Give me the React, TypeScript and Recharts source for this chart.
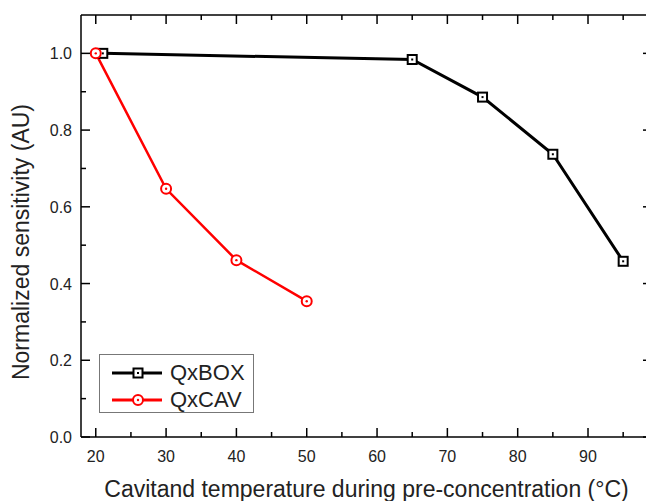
import { LineChart, Line, XAxis, YAxis, Legend } from 'recharts';

const boxTemps = [21, 65, 75, 85, 95];
const boxValues = [1.0, 0.984, 0.886, 0.737, 0.458];
const cavTemps = [20, 30, 40, 50];
const cavValues = [1.0, 0.647, 0.461, 0.354];
const xTicks = [20, 25, 30, 35, 40, 45, 50, 55, 60, 65, 70, 75, 80, 85, 90, 95];
const yTicks = [0, 0.1, 0.2, 0.3, 0.4, 0.5, 0.6, 0.7, 0.8, 0.9, 1.0];

const boxData = boxTemps.map((x, i) => ({ x, y: boxValues[i] }));
const cavData = cavTemps.map((x, i) => ({ x, y: cavValues[i] }));

const FONT = 'Arial, "Liberation Sans", sans-serif';
const X_DOMAIN: [number, number] = [17.9, 99.1];
const Y_DOMAIN: [number, number] = [0, 1.1];

const isMajorX = (v: number) => v % 10 === 0;
const isMajorY = (v: number) => Math.round(v * 10) % 2 === 0;

function BottomTick({ x, y, payload }: any) {
  const major = isMajorX(payload.value);
  return (
    <g>
      <line x1={x} x2={x} y1={y} y2={y - (major ? 9 : 5)} stroke="#000" strokeWidth={1.5} />
      {major && (
        <text x={x} y={y + 25} textAnchor="middle" fontSize={16} fontFamily={FONT} fill="#222">
          {payload.value}
        </text>
      )}
    </g>
  );
}

function TopTick({ x, y, payload }: any) {
  const major = isMajorX(payload.value);
  return <line x1={x} x2={x} y1={y} y2={y + (major ? 9 : 5)} stroke="#000" strokeWidth={1.5} />;
}

function LeftTick({ x, y, payload }: any) {
  const major = isMajorY(payload.value);
  return (
    <g>
      <line x1={x} x2={x + (major ? 9 : 5)} y1={y} y2={y} stroke="#000" strokeWidth={1.5} />
      {major && (
        <text x={x - 9} y={y + 6} textAnchor="end" fontSize={16} fontFamily={FONT} fill="#222">
          {payload.value.toFixed(1)}
        </text>
      )}
    </g>
  );
}

function RightTick({ x, y, payload }: any) {
  const major = isMajorY(payload.value);
  return <line x1={x} x2={x - (major ? 9 : 5)} y1={y} y2={y} stroke="#000" strokeWidth={1.5} />;
}

function SquareDot({ cx, cy }: any) {
  if (cx == null || cy == null) return null;
  return (
    <g>
      <rect x={cx - 4.5} y={cy - 4.5} width={9} height={9} fill="#fff" stroke="#000" strokeWidth={2} />
      <rect x={cx - 1} y={cy - 1} width={2} height={2} fill="#000" />
    </g>
  );
}

function CircleDot({ cx, cy }: any) {
  if (cx == null || cy == null) return null;
  return (
    <g>
      <circle cx={cx} cy={cy} r={5} fill="#fff" stroke="#ff0000" strokeWidth={2} />
      <circle cx={cx} cy={cy} r={1.2} fill="#ff0000" />
    </g>
  );
}

function XTitle({ viewBox }: any) {
  const cx = viewBox.x + viewBox.width / 2;
  return (
    <text x={cx} y={viewBox.y + 60} textAnchor="middle" fontSize={23} fontFamily={FONT} fill="#222">
      Cavitand temperature during pre-concentration (°C)
    </text>
  );
}

function YTitle({ viewBox }: any) {
  const cx = viewBox.x - 59;
  const cy = viewBox.y + viewBox.height / 2 + 16;
  return (
    <text
      x={cx}
      y={cy}
      transform={`rotate(-90 ${cx} ${cy})`}
      textAnchor="middle"
      dominantBaseline="central"
      fontSize={23}
      fontFamily={FONT}
      fill="#222"
    >
      Normalized sensitivity (AU)
    </text>
  );
}

const SERIES = [
  { name: 'QxBOX', color: '#000', Marker: SquareDot },
  { name: 'QxCAV', color: '#ff0000', Marker: CircleDot },
];

function LegendBox() {
  return (
    <div style={{ width: 155, height: 59, border: '1px solid #777', background: '#fff', boxSizing: 'border-box', paddingTop: 4 }}>
      {SERIES.map(({ name, color, Marker }) => (
        <div key={name} style={{ display: 'flex', alignItems: 'center', height: 27 }}>
          <svg width={66} height={20} style={{ marginLeft: 8 }}>
            <line x1={4} x2={54} y1={10} y2={10} stroke={color} strokeWidth={3} />
            <Marker cx={30} cy={10} />
          </svg>
          <span style={{ fontFamily: FONT, fontSize: 22, color: '#222', marginLeft: -4 }}>{name}</span>
        </div>
      ))}
    </div>
  );
}

export default function App() {
  return (
    <div style={{ position: 'absolute', left: 0, top: 0, width: 646, height: 501, overflow: 'hidden', background: '#fff' }}>
      <LineChart width={660} height={501} margin={{ top: 14, right: 7, bottom: 63, left: 80 }}>
        <XAxis
          xAxisId="b"
          dataKey="x"
          type="number"
          domain={X_DOMAIN}
          allowDataOverflow
          ticks={xTicks}
          interval={0}
          height={1}
          tickSize={0}
          tickMargin={0}
          tickLine={false}
          axisLine={{ stroke: '#000', strokeWidth: 1.5 }}
          tick={<BottomTick />}
          label={<XTitle />}
        />
        <XAxis
          xAxisId="t"
          orientation="top"
          dataKey="x"
          type="number"
          domain={X_DOMAIN}
          allowDataOverflow
          ticks={xTicks}
          interval={0}
          height={1}
          tickSize={0}
          tickMargin={0}
          tickLine={false}
          axisLine={{ stroke: '#000', strokeWidth: 1.5 }}
          tick={<TopTick />}
        />
        <YAxis
          yAxisId="l"
          type="number"
          domain={Y_DOMAIN}
          allowDataOverflow
          ticks={yTicks}
          interval={0}
          width={1}
          tickSize={0}
          tickMargin={0}
          tickLine={false}
          axisLine={{ stroke: '#000', strokeWidth: 1.5 }}
          tick={<LeftTick />}
          label={<YTitle />}
        />
        <YAxis
          yAxisId="r"
          orientation="right"
          type="number"
          domain={Y_DOMAIN}
          allowDataOverflow
          ticks={yTicks}
          interval={0}
          width={1}
          tickSize={0}
          tickMargin={0}
          tickLine={false}
          axisLine={{ stroke: '#000', strokeWidth: 1.5 }}
          tick={<RightTick />}
        />
        <Legend
          layout="vertical"
          align="center"
          verticalAlign="middle"
          wrapperStyle={{ left: 99, top: 354, width: 155, height: 59 }}
          content={<LegendBox />}
        />
        <Line
          xAxisId="b"
          yAxisId="l"
          data={boxData}
          dataKey="y"
          name="QxBOX"
          stroke="#000"
          strokeWidth={3}
          dot={<SquareDot />}
          activeDot={false}
          isAnimationActive={false}
        />
        <Line
          xAxisId="b"
          yAxisId="l"
          data={cavData}
          dataKey="y"
          name="QxCAV"
          stroke="#ff0000"
          strokeWidth={2.5}
          dot={<CircleDot />}
          activeDot={false}
          isAnimationActive={false}
        />
      </LineChart>
    </div>
  );
}
